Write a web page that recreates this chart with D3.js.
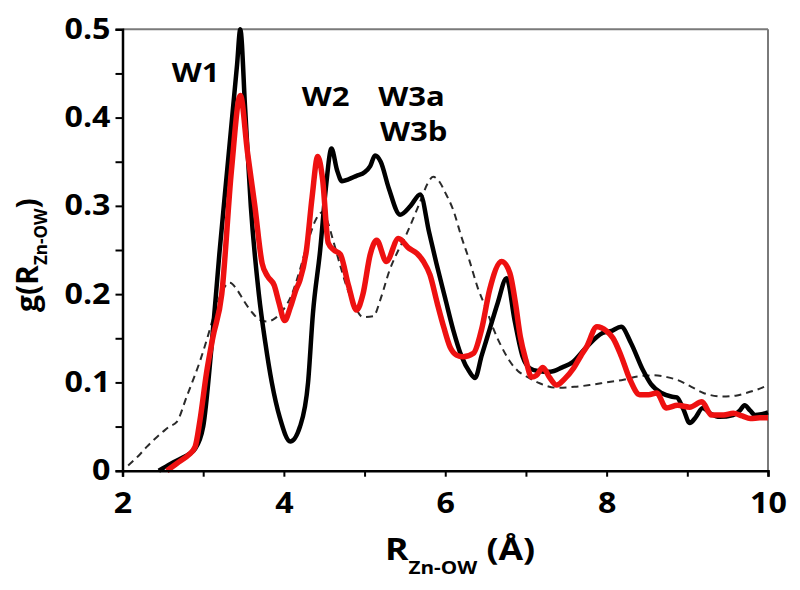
<!DOCTYPE html>
<html><head><meta charset="utf-8">
<script src="https://cdn.jsdelivr.net/npm/d3@7"></script>
<style>body{margin:0;background:#fff}</style></head>
<body><svg id="c" width="800" height="590"></svg>
<script>
// ---- data ----
const blackR=[2.45,2.6,2.75,2.9,3.0,3.1,3.2,3.3,3.42,3.46,3.52,3.59,3.69,3.77,3.85,3.95,4.08,4.2,4.3,4.36,4.45,4.52,4.59,4.66,4.72,4.8,4.9,5.0,5.07,5.13,5.2,5.3,5.44,5.57,5.69,5.8,5.89,6.0,6.1,6.2,6.3,6.37,6.45,6.55,6.65,6.76,6.86,6.96,7.05,7.15,7.3,7.45,7.58,7.75,7.95,8.05,8.18,8.3,8.45,8.55,8.68,8.8,8.87,8.95,9.03,9.1,9.19,9.3,9.4,9.57,9.65,9.71,9.78,9.84,9.92,10.0];
const blackG=[0,0.008,0.015,0.025,0.05,0.137,0.245,0.343,0.46,0.5,0.41,0.3,0.2,0.145,0.1,0.06,0.033,0.05,0.1,0.178,0.25,0.32,0.365,0.34,0.328,0.33,0.334,0.338,0.345,0.357,0.35,0.32,0.29,0.3,0.313,0.27,0.235,0.195,0.159,0.13,0.112,0.105,0.13,0.16,0.19,0.218,0.17,0.129,0.116,0.113,0.112,0.117,0.123,0.14,0.156,0.158,0.163,0.145,0.114,0.098,0.088,0.084,0.083,0.07,0.054,0.06,0.071,0.064,0.061,0.063,0.068,0.074,0.068,0.063,0.064,0.066];
const redR=[2.55,2.7,2.82,2.9,2.96,3.04,3.12,3.23,3.35,3.46,3.55,3.64,3.73,3.8,3.88,3.94,4.01,4.08,4.15,4.2,4.28,4.35,4.42,4.48,4.55,4.62,4.7,4.8,4.9,4.98,5.07,5.15,5.27,5.42,5.55,5.65,5.73,5.81,5.9,5.98,6.06,6.14,6.22,6.35,6.45,6.55,6.7,6.8,6.87,6.93,7.0,7.07,7.13,7.21,7.29,7.38,7.48,7.59,7.68,7.75,7.88,8.0,8.08,8.18,8.29,8.41,8.52,8.62,8.74,8.88,9.03,9.18,9.3,9.45,9.57,9.68,9.78,9.9,10.0];
const redG=[0,0.01,0.018,0.027,0.057,0.11,0.151,0.2,0.34,0.425,0.36,0.3,0.235,0.22,0.21,0.19,0.17,0.185,0.205,0.216,0.25,0.31,0.356,0.33,0.258,0.25,0.245,0.21,0.182,0.2,0.245,0.261,0.237,0.263,0.252,0.246,0.237,0.222,0.19,0.163,0.14,0.131,0.129,0.133,0.16,0.205,0.237,0.224,0.19,0.152,0.125,0.106,0.108,0.117,0.106,0.097,0.104,0.116,0.13,0.14,0.163,0.158,0.15,0.13,0.103,0.086,0.086,0.088,0.071,0.074,0.072,0.078,0.063,0.063,0.065,0.062,0.059,0.06,0.06];
const dashR=[2.07,2.2,2.3,2.4,2.5,2.58,2.67,2.8,2.88,2.96,3.05,3.13,3.22,3.33,3.42,3.5,3.6,3.7,3.79,3.88,3.99,4.1,4.2,4.3,4.4,4.48,4.55,4.61,4.7,4.78,4.88,4.98,5.11,5.2,5.31,5.42,5.52,5.6,5.69,5.78,5.85,5.93,6.0,6.1,6.2,6.3,6.4,6.5,6.6,6.7,6.8,6.9,7.0,7.17,7.38,7.6,7.79,8.0,8.21,8.4,8.58,8.75,8.87,9.05,9.2,9.44,9.6,9.73,9.87,10.0];
const dashG=[0.006,0.017,0.027,0.036,0.044,0.05,0.055,0.085,0.104,0.124,0.15,0.175,0.2,0.213,0.205,0.193,0.18,0.171,0.169,0.172,0.182,0.2,0.228,0.26,0.285,0.293,0.28,0.261,0.232,0.208,0.186,0.174,0.175,0.195,0.227,0.25,0.268,0.285,0.305,0.325,0.333,0.327,0.315,0.295,0.265,0.238,0.208,0.185,0.16,0.14,0.124,0.113,0.107,0.099,0.094,0.095,0.097,0.1,0.103,0.107,0.108,0.106,0.103,0.095,0.088,0.084,0.085,0.088,0.092,0.097];
const xTicks=[2,3,4,5,6,7,8,9,10];
const xTickLabels=["2","","4","","6","","8","","10"];
const yTicks=[0,0.05,0.1,0.15,0.2,0.25,0.3,0.35,0.4,0.45,0.5];
const yTickLabels=["0","","0.1","","0.2","","0.3","","0.4","","0.5"];
const peakLabels=["W1","W2","W3a","W3b"];
const peakLabelPos=[[2.61,0.44],[4.22,0.413],[5.17,0.413],[5.19,0.374]];

// ---- layout ----
const L=122.5,R=768,T=29.3,B=470.7,SX=1.15,FONT="'Open Sans', sans-serif";
const svg=d3.select("#c");
const x=d3.scaleLinear().domain([2,10]).range([L,R]);
const y=d3.scaleLinear().domain([0,0.5]).range([B,T]);

// frame top/right
svg.append("line").attr("x1",L).attr("x2",R).attr("y1",T).attr("y2",T).attr("stroke","#7a7a7a").attr("stroke-width",2);
svg.append("line").attr("x1",R).attr("x2",R).attr("y1",T).attr("y2",B).attr("stroke","#7a7a7a").attr("stroke-width",2);

const line=(xs,ys)=>d3.line().x((d,i)=>x(xs[i])).y((d,i)=>y(ys[i])).curve(d3.curveMonotoneX)(xs);
svg.append("path").attr("d",line(dashR,dashG)).attr("fill","none").attr("stroke","#2a2a2a").attr("stroke-width",2).attr("stroke-dasharray","7,5");
svg.append("path").attr("d",line(blackR,blackG)).attr("fill","none").attr("stroke","#000").attr("stroke-width",4.5).attr("stroke-linejoin","round");
svg.append("path").attr("d",line(redR,redG)).attr("fill","none").attr("stroke","#ee1111").attr("stroke-width",5.5).attr("stroke-linejoin","round");

// axes
const xa=svg.append("g").attr("transform",`translate(0,${B})`)
  .call(d3.axisBottom(x).tickValues(xTicks).tickFormat((d,i)=>xTickLabels[i]).tickSize(6).tickPadding(16));
const ya=svg.append("g").attr("transform",`translate(${L},0)`)
  .call(d3.axisLeft(y).tickValues(yTicks).tickFormat((d,i)=>yTickLabels[i]).tickSize(7).tickPadding(5));
[xa,ya].forEach(g=>{
  g.select(".domain").attr("stroke","#000").attr("stroke-width",2.5);
  g.selectAll(".tick line").attr("stroke","#000").attr("stroke-width",2);
  g.selectAll("text").attr("font-family",FONT).attr("font-weight",700).attr("font-size",28).attr("fill","#000");
});
xa.selectAll("text").attr("transform",`scale(${SX},1)`);
ya.selectAll("text").attr("x",-12/SX).attr("transform",`scale(${SX},1)`);

// peak labels
peakLabels.forEach((t,i)=>{
  svg.append("g").attr("transform",`translate(${x(peakLabelPos[i][0])},${y(peakLabelPos[i][1])}) scale(${SX},1)`)
   .append("text").text(t).attr("font-family",FONT).attr("font-weight",700).attr("font-size",27).attr("fill","#000");
});

// x label
const xl=svg.append("g").attr("transform",`translate(385,560) scale(${SX},1)`).append("text")
  .attr("font-family",FONT).attr("font-weight",700).attr("font-size",31).attr("fill","#000");
xl.append("tspan").text("R");
xl.append("tspan").text("Zn-OW").attr("font-size",18).attr("dy",14);
xl.append("tspan").text(" (Å)").attr("dy",-14);

// y label
const yl=svg.append("g").attr("transform",`translate(38,312) rotate(-90)`).append("text")
  .attr("font-family",FONT).attr("font-weight",700).attr("font-size",30).attr("fill","#000");
yl.append("tspan").text("g(R");
yl.append("tspan").text("Zn-OW").attr("font-size",17).attr("dy",9);
yl.append("tspan").text(")").attr("dy",-9);
</script></body></html>
